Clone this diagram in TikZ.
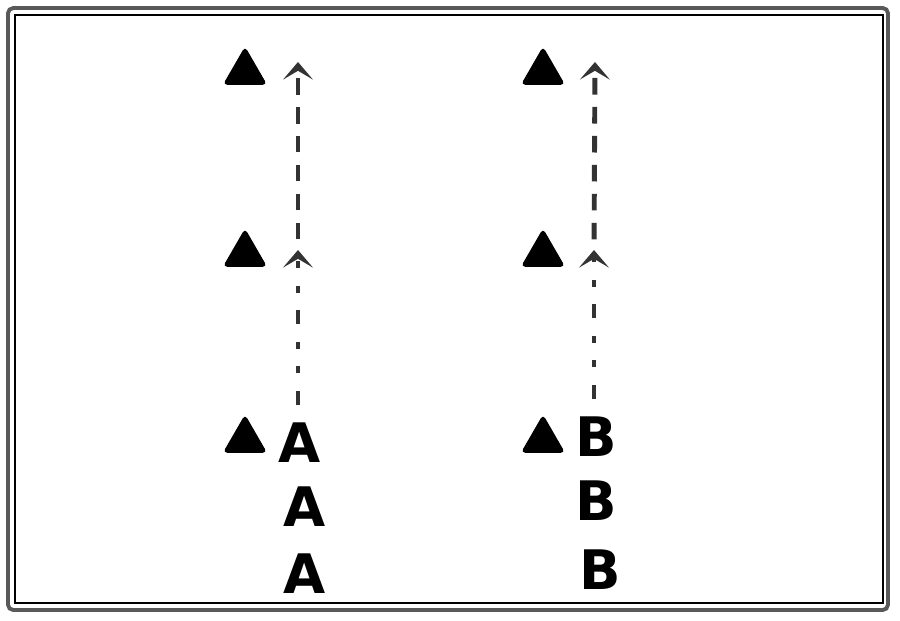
\documentclass[tikz,border=0pt]{standalone}
\usepackage{fontspec}
\newfontfamily\letterfont{DejaVu Sans}
\usetikzlibrary{arrows.meta}
\usetikzlibrary{shapes.geometric}

\begin{document}
\begin{tikzpicture}[x=0.02cm,y=-0.02cm,
  >={Stealth[length=10pt,width=17pt,inset=5pt]},semithick,
  tri/.style={regular polygon,regular polygon sides=3,fill=black,draw=black,rounded corners=2pt,minimum size=0.98cm,inner sep=0pt},
  letter/.style={font=\letterfont\bfseries\fontsize{31}{31}\selectfont,inner sep=2pt},
  upper/.style={->,line width=2.8pt,draw=black!80,dash pattern=on 9.5pt off 7pt,shorten <=6pt},
  lower/.style={->,line width=2.8pt,draw=black!80,dash pattern=on 8pt off 10pt on 4pt off 10pt on 4pt off 10pt,shorten <=8pt}]
  \useasboundingbox (0,0) rectangle (900,620);

  % frames
  \draw[black!65,line width=2.2pt,rounded corners=3pt] (8,8) rectangle (888,610);
  \draw[black,line width=1.3pt] (15,15) rectangle (883,603);

  % left column
  \node [tri] (triL1) at (245,72) {};
  \node [tri] (triL2) at (245,254) {};
  \node [tri] (triL3) at (245,440) {};
  \node [letter] (a1) at (300,443) {A};
  \node [letter] (a2) at (305,507) {A};
  \node [letter] (a3) at (305,574) {A};
  \coordinate (topL) at (298,62);
  \coordinate (midL) at (298,250);

  % right column
  \node [tri] (triR1) at (543,72) {};
  \node [tri] (triR2) at (543,254) {};
  \node [tri] (triR3) at (543,440) {};
  \node [letter] (b1) at (596,437) {B};
  \node [letter] (b2) at (596,501) {B};
  \node [letter] (b3) at (600,570) {B};
  \coordinate (topR) at (595,62);
  \coordinate (midR) at (594,250);

  % arrows
  \draw [lower] (a1.north -| midL) -- (midL);
  \draw [upper] (midL) -- (topL);
  \draw [lower] (b1.north -| midR) -- (midR);
  \draw [upper] (midR) -- (topR);
\end{tikzpicture}
\end{document}
